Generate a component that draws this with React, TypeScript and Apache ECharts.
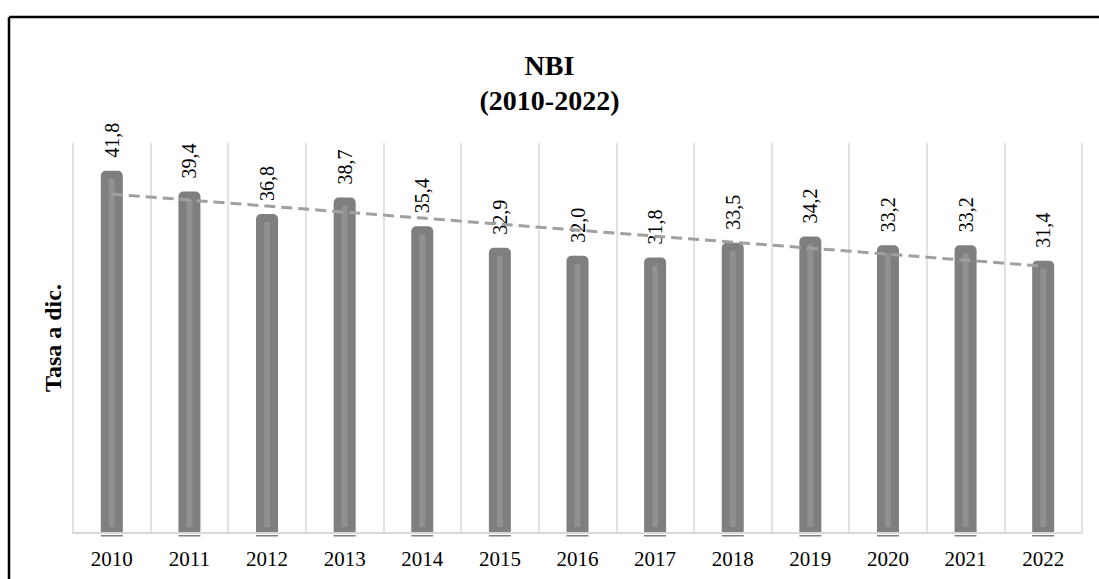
import React, { useEffect, useRef } from "react";
import * as echarts from "echarts";

const years = ["2010", "2011", "2012", "2013", "2014", "2015", "2016", "2017", "2018", "2019", "2020", "2021", "2022"];
const values = [41.8, 39.4, 36.8, 38.7, 35.4, 32.9, 32.0, 31.8, 33.5, 34.2, 33.2, 33.2, 31.4];
const titleLines = ["NBI", "(2010-2022)"];
const yAxisName = "Tasa a dic.";

function linearTrend(ys: number[]): number[] {
  const n = ys.length;
  const mx = (n - 1) / 2;
  const my = ys.reduce((a, b) => a + b, 0) / n;
  let sxy = 0;
  let sxx = 0;
  ys.forEach((y, i) => {
    sxy += (i - mx) * (y - my);
    sxx += (i - mx) * (i - mx);
  });
  const slope = sxy / sxx;
  return ys.map((_, i) => +(my + slope * (i - mx)).toFixed(3));
}

const SERIF = "'Liberation Serif', 'Times New Roman', serif";

export default function App() {
  const ref = useRef<HTMLDivElement>(null);
  useEffect(() => {
    if (!ref.current) return;
    const chart = echarts.init(ref.current, undefined, { renderer: "svg" });
    const trend = linearTrend(values);
    chart.setOption({
      animation: false,
      backgroundColor: "#ffffff",
      textStyle: { fontFamily: SERIF },
      title: {
        text: titleLines.join("\n"),
        left: "center",
        top: 43,
        textStyle: { fontFamily: SERIF, fontSize: 28, fontWeight: "bold", color: "#000", lineHeight: 35 },
      },
      graphic: [
        { type: "line", shape: { x1: 9, y1: 17, x2: 1099, y2: 17 }, style: { stroke: "#000", lineWidth: 2.5 } },
        { type: "line", shape: { x1: 9, y1: 17, x2: 9, y2: 579 }, style: { stroke: "#000", lineWidth: 2.5 } },
      ],
      grid: { left: 73, right: 17, top: 143, bottom: 46 },
      xAxis: {
        type: "category",
        data: years,
        boundaryGap: true,
        axisLine: { show: true, lineStyle: { color: "#d9d9d9", width: 2 } },
        axisTick: { show: false },
        axisLabel: { color: "#000", fontSize: 21, fontFamily: SERIF, margin: 15 },
        splitLine: { show: true, lineStyle: { color: "#d9d9d9", width: 1.5 } },
        z: 5,
      },
      yAxis: {
        type: "value",
        min: 0,
        max: 45,
        axisLabel: { show: false },
        axisLine: { show: false },
        axisTick: { show: false },
        splitLine: { show: false },
        name: yAxisName,
        nameLocation: "middle",
        nameGap: 8,
        nameTextStyle: { fontFamily: SERIF, fontSize: 24, fontWeight: "bold", color: "#000" },
      },
      series: [
        {
          type: "bar",
          data: values,
          barWidth: 22,
          itemStyle: { color: "#7f7f7f", borderRadius: [5, 5, 0, 0] },
          label: {
            show: true,
            position: "top",
            rotate: 90,
            align: "left",
            verticalAlign: "middle",
            distance: 13,
            fontFamily: SERIF,
            fontSize: 20,
            color: "#000",
            formatter: (p: any) => p.value.toFixed(1).replace(".", ","),
          },
          z: 2,
        },
        {
          type: "custom",
          data: values.map((v, i) => [i, v]),
          renderItem: (params: any, api: any) => {
            const top = api.coord([api.value(0), api.value(1)]);
            const base = api.coord([api.value(0), 0]);
            return {
              type: "group",
              children: [
                {
                  type: "rect",
                  shape: { x: top[0] - 3, y: top[1] + 8, width: 6, height: base[1] - top[1] - 14 },
                  style: { fill: "#909090" },
                },
                {
                  type: "rect",
                  shape: { x: top[0] - 11, y: base[1] + 2, width: 22, height: 1.5 },
                  style: { fill: "#7f7f7f" },
                },
              ],
            };
          },
          z: 3,
          silent: true,
        },
        {
          type: "line",
          data: trend,
          symbol: "none",
          lineStyle: { color: "#a0a0a0", width: 3, type: [11, 6] },
          z: 10,
          silent: true,
        },
      ],
    });
    return () => chart.dispose();
  }, []);
  return (
    <div
      ref={ref}
      style={{ position: "fixed", left: 0, top: 0, width: 1099, height: 579, background: "#fff" }}
    />
  );
}
